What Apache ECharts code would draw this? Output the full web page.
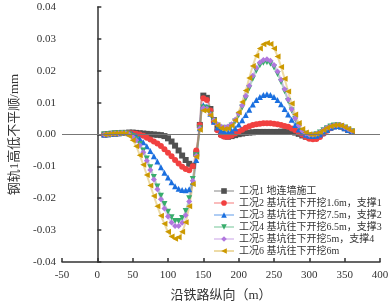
<!DOCTYPE html>
<html>
<head>
<meta charset="utf-8">
<script src="https://cdn.jsdelivr.net/npm/echarts@6/dist/echarts.min.js"></script>
<style>
  html, body { margin: 0; padding: 0; background: #fff; }
  #chart { width: 392px; height: 307px; }
</style>
</head>
<body>
<div id="chart"></div>
<script>
// 沿铁路纵向位置 (m)
const positions = [10, 15, 20, 25, 30, 35, 40, 45, 50, 55, 60, 65, 70, 75, 80, 85, 90, 95, 100,
  105, 110, 115, 120, 125, 130, 135, 140, 145, 150, 155, 160, 165, 170, 175, 180, 185, 190, 195, 200,
  205, 210, 215, 220, 225, 230, 235, 240, 245, 250, 255, 260, 265, 270, 275, 280, 285, 290, 295, 300,
  305, 310, 315, 320, 325, 330, 335, 340, 345, 350, 355, 360];

const seriesNames = [
  '工况1 地连墙施工',
  '工况2 基坑往下开挖1.6m，支撑1',
  '工况3 基坑往下开挖7.5m，支撑2',
  '工况4 基坑往下开挖6.5m，支撑3',
  '工况5 基坑往下开挖5m，支撑4',
  '工况6 基坑往下开挖6m'
];

const case1 = [0.0000, 0.0001, 0.0002, 0.0003, 0.0004, 0.0005, 0.0005, 0.0006, 0.0006, 0.0005, 0.0004,
  0.0003, 0.0002, 0.0001, 0.0000, -0.0001, -0.0002, -0.0005, -0.0012, -0.0022, -0.0035, -0.0050, -0.0066,
  -0.0080, -0.0092, -0.0098, -0.0060, 0.0030, 0.0122, 0.0115, 0.0080, 0.0045, 0.0018, 0.0002, -0.0005,
  -0.0007, -0.0005, -0.0002, 0.0001, 0.0003, 0.0005, 0.0006, 0.0007, 0.0008, 0.0008, 0.0008, 0.0008,
  0.0008, 0.0008, 0.0008, 0.0009, 0.0009, 0.0009, 0.0008, 0.0006, 0.0002, -0.0003, -0.0007, -0.0009,
  -0.0009, -0.0006, 0.0000, 0.0008, 0.0016, 0.0022, 0.0026, 0.0027, 0.0025, 0.0020, 0.0014, 0.0008];

const case2 = [0.0000, 0.0001, 0.0002, 0.0003, 0.0004, 0.0005, 0.0005, 0.0005, 0.0004, 0.0002, 0.0000,
  -0.0004, -0.0010, -0.0016, -0.0022, -0.0028, -0.0036, -0.0046, -0.0057, -0.0068, -0.0080, -0.0091, -0.0101,
  -0.0108, -0.0112, -0.0100, -0.0050, 0.0030, 0.0114, 0.0108, 0.0075, 0.0040, 0.0013, -0.0002, -0.0007,
  -0.0007, -0.0003, 0.0003, 0.0009, 0.0015, 0.0021, 0.0026, 0.0030, 0.0032, 0.0034, 0.0035, 0.0035,
  0.0035, 0.0034, 0.0032, 0.0030, 0.0027, 0.0024, 0.0019, 0.0013, 0.0006, -0.0001, -0.0008, -0.0013,
  -0.0015, -0.0014, -0.0008, 0.0002, 0.0012, 0.0020, 0.0025, 0.0027, 0.0025, 0.0020, 0.0014, 0.0008];

const case3 = [0.0000, 0.0001, 0.0002, 0.0003, 0.0004, 0.0005, 0.0005, 0.0004, 0.0001, -0.0005, -0.0013,
  -0.0024, -0.0037, -0.0052, -0.0068, -0.0085, -0.0103, -0.0120, -0.0135, -0.0150, -0.0162, -0.0170, -0.0174,
  -0.0175, -0.0172, -0.0150, -0.0080, 0.0020, 0.0092, 0.0088, 0.0065, 0.0040, 0.0022, 0.0012, 0.0008,
  0.0008, 0.0012, 0.0020, 0.0031, 0.0045, 0.0061, 0.0078, 0.0094, 0.0108, 0.0118, 0.0124, 0.0126,
  0.0124, 0.0118, 0.0108, 0.0095, 0.0080, 0.0063, 0.0046, 0.0030, 0.0016, 0.0006, -0.0001, -0.0004,
  -0.0005, -0.0004, 0.0000, 0.0006, 0.0014, 0.0021, 0.0025, 0.0027, 0.0025, 0.0020, 0.0014, 0.0008];

const case4 = [0.0000, 0.0001, 0.0002, 0.0003, 0.0004, 0.0005, 0.0004, 0.0001, -0.0005, -0.0015, -0.0030,
  -0.0050, -0.0075, -0.0103, -0.0133, -0.0163, -0.0192, -0.0218, -0.0242, -0.0260, -0.0271, -0.0271, -0.0262,
  -0.0240, -0.0200, -0.0140, -0.0065, 0.0020, 0.0085, 0.0082, 0.0062, 0.0042, 0.0028, 0.0021, 0.0019,
  0.0021, 0.0028, 0.0041, 0.0060, 0.0085, 0.0113, 0.0145, 0.0175, 0.0200, 0.0217, 0.0225, 0.0227,
  0.0222, 0.0210, 0.0190, 0.0165, 0.0136, 0.0105, 0.0075, 0.0048, 0.0026, 0.0011, 0.0002, -0.0002,
  -0.0002, 0.0001, 0.0006, 0.0013, 0.0020, 0.0025, 0.0028, 0.0029, 0.0027, 0.0022, 0.0016, 0.0010];

const case5 = [0.0000, 0.0001, 0.0002, 0.0003, 0.0004, 0.0005, 0.0004, 0.0000, -0.0007, -0.0018, -0.0034,
  -0.0056, -0.0082, -0.0111, -0.0141, -0.0172, -0.0203, -0.0232, -0.0257, -0.0276, -0.0287, -0.0287, -0.0277,
  -0.0253, -0.0210, -0.0145, -0.0067, 0.0020, 0.0083, 0.0081, 0.0063, 0.0045, 0.0032, 0.0025, 0.0023,
  0.0025, 0.0032, 0.0046, 0.0066, 0.0091, 0.0121, 0.0153, 0.0184, 0.0209, 0.0226, 0.0234, 0.0236,
  0.0231, 0.0218, 0.0198, 0.0172, 0.0142, 0.0110, 0.0079, 0.0051, 0.0028, 0.0012, 0.0003, -0.0001,
  -0.0001, 0.0002, 0.0007, 0.0014, 0.0021, 0.0026, 0.0029, 0.0030, 0.0028, 0.0023, 0.0017, 0.0011];

const case6 = [0.0000, 0.0001, 0.0002, 0.0003, 0.0004, 0.0004, 0.0002, -0.0005, -0.0018, -0.0037, -0.0065,
  -0.0095, -0.0127, -0.0160, -0.0193, -0.0225, -0.0255, -0.0280, -0.0305, -0.0320, -0.0327, -0.0322, -0.0305,
  -0.0275, -0.0225, -0.0155, -0.0070, 0.0015, 0.0075, 0.0075, 0.0060, 0.0042, 0.0028, 0.0020, 0.0017,
  0.0019, 0.0028, 0.0045, 0.0070, 0.0102, 0.0138, 0.0177, 0.0215, 0.0247, 0.0270, 0.0283, 0.0287,
  0.0284, 0.0270, 0.0245, 0.0212, 0.0175, 0.0135, 0.0097, 0.0063, 0.0036, 0.0017, 0.0006, 0.0001,
  0.0000, 0.0002, 0.0007, 0.0014, 0.0021, 0.0026, 0.0029, 0.0030, 0.0028, 0.0023, 0.0017, 0.0011];

const allCases = [case1, case2, case3, case4, case5, case6];
const colors = ['#515151', '#F14040', '#1A6FDF', '#37AD6B', '#B177DE', '#CC9900'];
const symbols = [
  'rect',
  'circle',
  'triangle',
  'path://M0,0 L10,0 L5,10 Z',
  'diamond',
  'path://M0,5 L10,0 L10,10 Z'
];

const FONT = '"Liberation Serif", "Noto Sans CJK SC", serif';

const chart = echarts.init(document.getElementById('chart'), null, { renderer: 'canvas' });

// 各工况系列
const seriesList = allCases.map((vals, i) => ({
  type: 'line',
  name: seriesNames[i],
  data: positions.map((x, j) => [x, vals[j]]),
  smooth: true,
  symbol: symbols[i],
  symbolSize: 6,
  showAllSymbol: true,
  itemStyle: { color: colors[i] },
  lineStyle: { color: colors[i], width: 2, opacity: 0.35 },
  emphasis: { disabled: true },
  markLine: i === 0 ? {
    silent: true,
    symbol: 'none',
    label: { show: false },
    lineStyle: { color: '#777', width: 1, type: 'solid' },
    data: [{ yAxis: 0 }]
  } : undefined
}));

chart.setOption({
  backgroundColor: '#fff',
  animation: false,
  grid: { left: 54, right: 12, top: 7, bottom: 40 },
  legend: {
    orient: 'vertical',
    left: 213,
    top: 186,
    itemWidth: 20,
    itemHeight: 7,
    itemGap: 2,
    padding: 0,
    textStyle: { fontFamily: FONT, fontSize: 10, color: '#333' },
    data: seriesNames
  },
  xAxis: {
    type: 'value',
    min: -50,
    max: 400,
    interval: 50,
    name: '沿铁路纵向（m）',
    nameLocation: 'middle',
    nameGap: 27,
    nameTextStyle: { fontFamily: FONT, fontSize: 13, color: '#333' },
    axisLine: { onZero: false, lineStyle: { color: '#333', width: 1.5 } },
    axisTick: { inside: true, length: 4, lineStyle: { color: '#333', width: 1.5 } },
    axisLabel: { fontFamily: FONT, fontSize: 11, color: '#333', margin: 8 },
    splitLine: { show: false }
  },
  yAxis: {
    type: 'value',
    min: -0.04,
    max: 0.04,
    interval: 0.01,
    name: '钢轨1高低不平顺/mm',
    nameLocation: 'middle',
    nameGap: 41,
    nameTextStyle: { fontFamily: FONT, fontSize: 13, color: '#333' },
    axisLine: { show: true, lineStyle: { color: '#333', width: 1.5 } },
    axisTick: { show: true, inside: true, length: 4, lineStyle: { color: '#333', width: 1.5 } },
    axisLabel: {
      fontFamily: FONT, fontSize: 11, color: '#333', margin: 6,
      formatter: v => v.toFixed(2)
    },
    splitLine: { show: false }
  },
  series: seriesList
});
</script>
</body>
</html>
